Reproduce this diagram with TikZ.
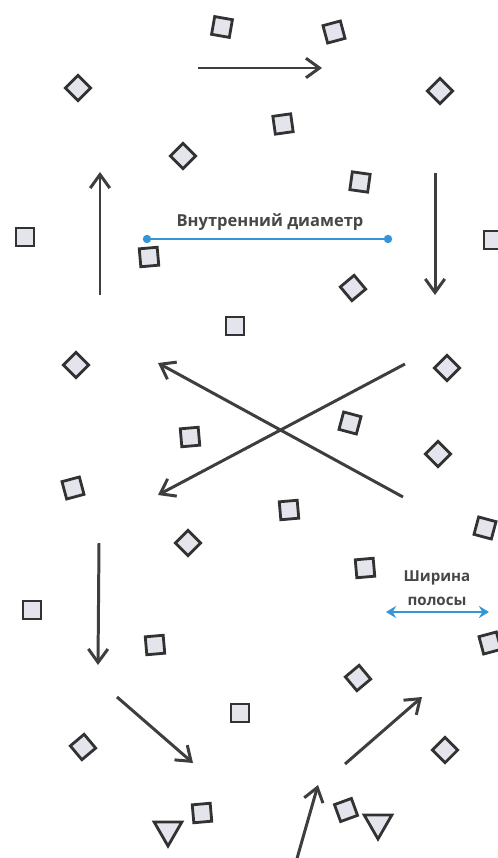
\documentclass[tikz,border=0pt]{standalone}
\usepackage{fontspec}
\setmainfont{Open Sans}
\usetikzlibrary{arrows.meta}
\usetikzlibrary{shapes.geometric}
\definecolor{part-fill}{RGB}{228, 228, 236}
\definecolor{part-edge}{RGB}{50, 50, 50}
\definecolor{flow-gray}{RGB}{62, 62, 62}
\definecolor{dim-blue}{RGB}{52, 150, 216}

\begin{document}
\begin{tikzpicture}[x=0.02cm, y=-0.02cm,
  part/.style={draw=part-edge, fill=part-fill, line width=1.6pt, minimum size=0.36cm, inner sep=0pt},
  tri/.style={draw=part-edge, fill=part-fill, line width=1.6pt, regular polygon, regular polygon sides=3, shape border rotate=180, minimum size=0.64cm, inner sep=0pt},
  flow/.style={draw=flow-gray, line width=1.7pt, -{Straight Barb[length=2.7mm,width=3.9mm]}},
  dim/.style={draw=dim-blue, line width=1.2pt},
  lbl/.style={text=black!72, inner sep=1pt}]
            \useasboundingbox (0,0) rectangle (497,858);

\foreach \x/\y/\r [count=\i] in {222/27/-10, 334/32/15, 283/124/8, 360/182/-8, 25/237/0, 149/257/5, 493/240/0, 235/326/0, 190/437/5, 350/423/-15, 73/488/15, 289/510/5, 485/528/-15, 365/568/5, 32/610/0, 155/645/5, 490/643/15, 240/713/0, 202/813/5, 346/810/20}
  \node[part, rotate=\r] (sq\i) at (\x,\y) {};

\foreach \x/\y/\r [count=\i] in {78/88/45, 183/156/45, 440/91/45, 353/288/40, 76/365/45, 447/368/45, 438/454/45, 188/543/45, 358/678/40, 83/747/40, 445/750/45}
  \node[part, rotate=\r] (dm\i) at (\x,\y) {};

\node[tri] (tr1) at (168,830) {};
\node[tri] (tr2) at (378,823) {};

\foreach \xa/\ya/\xb/\yb [count=\i] in {198/68/322/68, 100/295/100/172, 435/173/435/295, 405/364/158/495, 403/497/158/363, 99/543/98/665, 117/697/193/763, 345/764/422/697, 296/862/318/785}
{
  \coordinate (fs\i) at (\xa,\ya);
  \coordinate (fe\i) at (\xb,\yb);
  \draw[flow] (fs\i) -- (fe\i);
}

\coordinate (dl) at (147,239);
\coordinate (dr) at (388,239);
\draw[dim] (dl) -- (dr);
\fill[dim-blue] (dl) circle (2.4pt) (dr) circle (2.4pt);
\node[lbl, font=\bfseries\fontsize{9.4}{12}\selectfont] (diam) at (270,222) {Внутренний диаметр};

\coordinate (bl) at (386,612);
\coordinate (br) at (489,612);
\draw[dim, line width=1.5pt, {Stealth[length=2mm,width=2.4mm]}-{Stealth[length=2mm,width=2.4mm]}] (bl) -- (br);
\node[lbl, align=center, font=\bfseries\fontsize{8.6}{14}\selectfont] (band) at (437,588) {Ширина\\полосы};

            \end{tikzpicture}
\end{document}
